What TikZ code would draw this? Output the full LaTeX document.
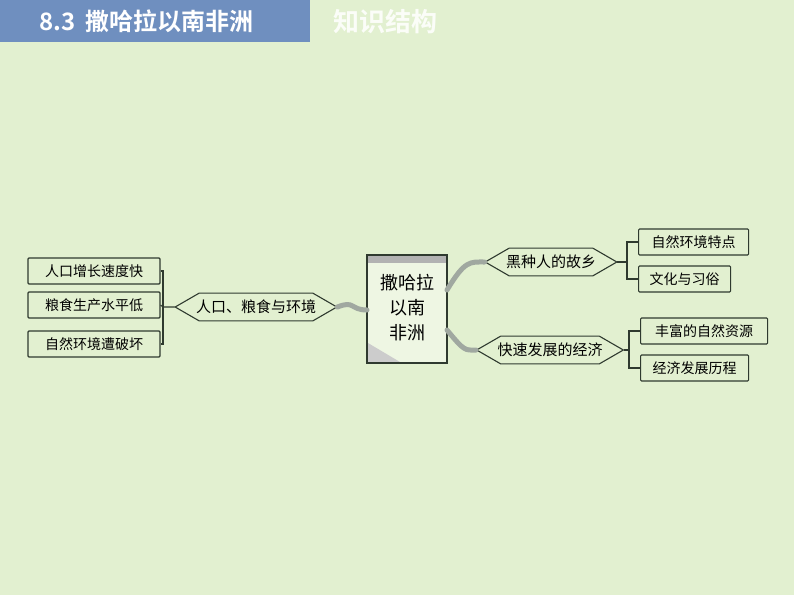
\documentclass[tikz,border=0pt]{standalone}
\usepackage{fontspec}
\setmainfont{Noto Sans CJK SC}
\newfontfamily\cjkb{Noto Sans CJK SC Bold}
\usetikzlibrary{shapes.misc,shapes.geometric}
\definecolor{bg}{HTML}{E2F0D0}
\definecolor{hdr}{HTML}{6F8FBF}
\definecolor{ln}{HTML}{2F3A2F}
\definecolor{cv}{HTML}{A0A8A0}
\tikzset{
 leaf/.style={draw=ln,line width=1.1pt,rounded corners=1pt,minimum height=26pt,inner xsep=4pt,font=\fontsize{14}{14}\selectfont},
 hexa/.style={draw=ln,line width=1.1pt,chamfered rectangle,chamfered rectangle xsep=2cm,chamfered rectangle angle=60,minimum height=27pt,inner xsep=3pt,font=\fontsize{15}{15}\selectfont},
 br/.style={draw=ln,line width=1.1pt},
 cur/.style={draw=cv,line width=5pt,line cap=round}
}
\begin{document}
\begin{tikzpicture}[x=1pt,y=-1pt]
\fill[bg] (0,0) rectangle (794,595);
\useasboundingbox (0,0) rectangle (794,595);
\fill[hdr] (0,0) rectangle (310,42);
\node[text=white,font=\cjkb\fontsize{24}{24}\selectfont,anchor=west] (t1) at (36,21) {8.3\, 撒哈拉以南非洲};
\node[text=white!85!bg,font=\cjkb\fontsize{26}{26}\selectfont,anchor=west] (t2) at (330,22) {知识结构};
% central
\coordinate (c1) at (367,255); \coordinate (c2) at (447,363);
\draw[ln,line width=1.1pt,fill=bg!60!white] (c1) rectangle (c2);
\fill[gray!60] (368,256) rectangle (446,263);
\fill[gray!40] (368,343) -- (368,362) -- (400,362) -- cycle;
\draw[ln,line width=1.1pt] (c1) rectangle (c2);
\node[align=center,font=\fontsize{18}{25}\selectfont] (cen) at (407,308) {撒哈拉\\以南\\非洲};
% hexes
\node[hexa,minimum width=157pt] (h1) at (256,307) {人口、粮食与环境};
\node[hexa,minimum width=128pt] (h2) at (551,262) {黑种人的故乡};
\node[hexa,minimum width=135pt] (h3) at (550,350) {快速发展的经济};
\draw[cur] (h1.east) .. controls (355,300) and (350,310) .. (367,310);
\draw[cur] (447,290) .. controls (465,260) and (470,262) .. (h2.west);
\draw[cur] (447,330) .. controls (465,352) and (465,350) .. (h3.west);
% left leaves
\node[leaf,minimum width=132pt] (l1) at (94,271) {人口增长速度快};
\node[leaf,minimum width=132pt] (l2) at (94,305) {粮食生产水平低};
\node[leaf,minimum width=132pt] (l3) at (94,344) {自然环境遭破坏};
\coordinate (lb) at (163,307);
\draw[br] (l1.east) -| (lb) |- (l3.east);
\draw[br] (l2.east) -- (lb) -- (h1.west);
% right leaves
\node[leaf,minimum width=110pt,anchor=west] (r1) at (638,242) {自然环境特点};
\node[leaf,minimum width=92pt,anchor=west] (r2) at (638,279) {文化与习俗};
\node[leaf,minimum width=127pt,anchor=west] (r3) at (640,331) {丰富的自然资源};
\node[leaf,minimum width=108pt,anchor=west] (r4) at (640,368) {经济发展历程};
\coordinate (rb1) at (627,262); \coordinate (rb2) at (629,350);
\draw[br] (r1.west) -| (rb1) |- (r2.west); \draw[br] (h2.east) -- (rb1);
\draw[br] (r3.west) -| (rb2) |- (r4.west); \draw[br] (h3.east) -- (rb2);
\end{tikzpicture}
\end{document}
